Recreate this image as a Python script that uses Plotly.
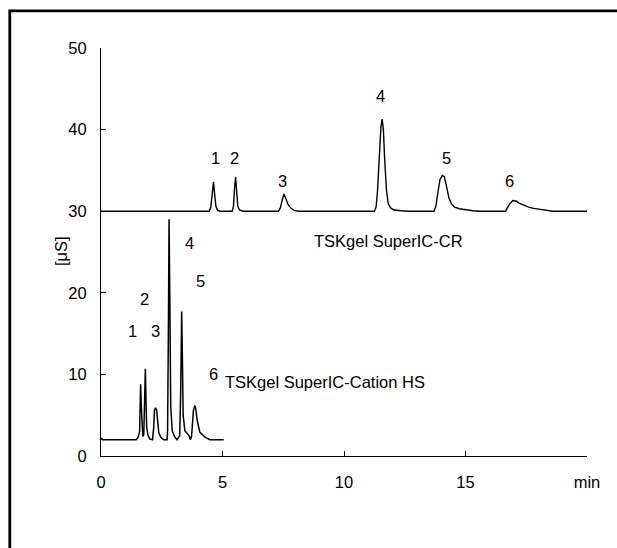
import plotly.graph_objects as go

# ---- data ----
cr_time = [0.0, 4.45, 4.52, 4.58, 4.63, 4.68, 4.73, 4.80, 4.90,
           5.40, 5.45, 5.50, 5.54, 5.58, 5.63, 5.70, 5.85,
           7.30, 7.38, 7.46, 7.53, 7.60, 7.70, 7.82, 7.95, 8.10,
           11.25, 11.32, 11.38, 11.45, 11.52, 11.57, 11.62, 11.68, 11.75, 11.82, 11.92, 12.05, 12.30, 12.60,
           13.70, 13.78, 13.86, 13.95, 14.05, 14.13, 14.22, 14.32, 14.42, 14.55, 14.75, 15.00, 15.30, 15.60,
           16.65, 16.72, 16.82, 16.95, 17.08, 17.20, 17.40, 17.60, 17.80, 18.00, 18.30, 18.60, 20.0]
cr_signal = [30.0, 30.0, 30.5, 32.5, 33.6, 32.0, 30.6, 30.1, 30.0,
             30.0, 30.6, 33.0, 34.2, 32.5, 30.6, 30.15, 30.0,
             30.0, 30.4, 31.4, 32.1, 31.6, 30.8, 30.35, 30.1, 30.0,
             30.0, 30.5, 32.5, 36.5, 40.3, 41.3, 40.0, 36.0, 32.5, 30.9, 30.4, 30.15, 30.05, 30.0,
             30.0, 30.6, 32.2, 33.9, 34.4, 34.2, 33.0, 31.6, 30.9, 30.5, 30.3, 30.15, 30.05, 30.0,
             30.0, 30.4, 30.9, 31.3, 31.25, 31.0, 30.7, 30.5, 30.35, 30.25, 30.1, 30.0, 30.0]

hs_time = [0.0, 0.02, 0.06, 1.45, 1.53, 1.56, 1.59, 1.61, 1.63, 1.66, 1.69, 1.72,
           1.76, 1.80, 1.825, 1.85, 1.88, 1.93, 2.00, 2.12, 2.17, 2.20, 2.24, 2.29,
           2.34, 2.38, 2.46, 2.58, 2.72, 2.74, 2.78, 2.80, 2.83, 2.87, 2.93, 3.04,
           3.13, 3.24, 3.28, 3.32, 3.35, 3.38, 3.45, 3.55, 3.62, 3.68, 3.73, 3.80,
           3.86, 3.90, 3.96, 4.07, 4.28, 4.48, 5.05]
hs_signal = [2.0, 2.2, 2.0, 2.0, 2.3, 2.8, 3.0, 6.0, 8.8, 6.0, 3.0, 2.4,
             2.6, 7.0, 10.7, 7.0, 3.5, 2.6, 2.1, 2.0, 3.5, 5.6, 5.9, 5.6,
             3.5, 2.8, 2.3, 2.0, 2.0, 3.1, 18.0, 29.0, 20.0, 6.0, 3.1, 2.3,
             2.0, 2.5, 8.0, 17.7, 12.0, 5.0, 3.1, 2.7, 2.5, 2.0, 2.5, 5.5,
             6.2, 5.8, 4.35, 2.9, 2.3, 2.0, 2.0]

peak_labels = ["1", "2", "3", "4", "5", "6"]
cr_label_t = [4.72, 5.51, 7.46, 11.49, 14.23, 16.8]
cr_label_v = [36.5, 36.5, 33.7, 44.1, 36.5, 33.7]
hs_label_t = [1.29, 1.77, 2.25, 3.66, 4.10, 4.62]
hs_label_v = [15.3, 19.3, 15.3, 26.1, 21.4, 10.1]

column_names = ["TSKgel SuperIC-CR", "TSKgel SuperIC-Cation HS"]
column_label_t = [11.85, 9.22]
column_label_v = [26.3, 9.1]

x_tickvals = [0, 5, 10, 15, 20]
x_ticktext = ["0", "5", "10", "15", "min"]
y_tickvals = [0, 10, 20, 30, 40, 50]

# ---- figure ----
W, H = 617, 548
L, R, T, B = 101, 30, 48, 92
FONT = "Liberation Sans, Arial, sans-serif"
FS = 16.5

def px2paper_x(px):
    return (px - L) / (W - L - R)

def px2paper_y(py):
    return (H - B - py) / (H - T - B)

fig = go.Figure()
fig.add_trace(go.Scatter(x=cr_time, y=cr_signal, mode="lines",
                         line=dict(color="black", width=1.4), showlegend=False))
fig.add_trace(go.Scatter(x=hs_time, y=hs_signal, mode="lines",
                         line=dict(color="black", width=1.5), showlegend=False))

annotations = []
for lab, t, v in zip(peak_labels, cr_label_t, cr_label_v):
    annotations.append(dict(x=t, y=v, text=lab, showarrow=False, xref="x", yref="y",
                            font=dict(size=FS, color="black", family=FONT)))
for lab, t, v in zip(peak_labels, hs_label_t, hs_label_v):
    annotations.append(dict(x=t, y=v, text=lab, showarrow=False, xref="x", yref="y",
                            font=dict(size=FS, color="black", family=FONT)))
for name, t, v in zip(column_names, column_label_t, column_label_v):
    annotations.append(dict(x=t, y=v, text=name, showarrow=False, xref="x", yref="y",
                            font=dict(size=FS, color="black", family=FONT)))
annotations.append(dict(x=px2paper_x(50), y=px2paper_y(251), text="[μS]", textangle=-90,
                        showarrow=False, xref="paper", yref="paper",
                        font=dict(size=FS, color="black", family=FONT)))

# outer frame (top and left edges only), drawn as one open path
fx0, fy0 = px2paper_x(9.8), px2paper_y(548)
fx1, fy1 = px2paper_x(9.8), px2paper_y(10.8)
fx2, fy2 = px2paper_x(617), px2paper_y(10.8)
shapes = [
    dict(type="path", xref="paper", yref="paper",
         path=f"M {fx0},{fy0} L {fx1},{fy1} L {fx2},{fy2}",
         line=dict(color="black", width=2.8)),
]

fig.update_layout(
    width=W, height=H,
    margin=dict(l=L, r=R, t=T, b=B, pad=0),
    paper_bgcolor="white", plot_bgcolor="white",
    font=dict(family=FONT, size=FS, color="black"),
    annotations=annotations, shapes=shapes,
    xaxis=dict(range=[0, 20], tickvals=x_tickvals, ticktext=x_ticktext,
               showline=True, linecolor="black", linewidth=1, ticks="inside",
               ticklen=5, tickcolor="black", showgrid=False, zeroline=False,
               ticklabelstandoff=11, tickfont=dict(size=FS, family=FONT)),
    yaxis=dict(range=[0, 50], tickvals=y_tickvals,
               showline=True, linecolor="black", linewidth=1, ticks="inside",
               ticklen=5, tickcolor="black", showgrid=False, zeroline=False,
               ticklabelstandoff=10, tickfont=dict(size=FS, family=FONT)),
)

fig.write_html("out.html")
